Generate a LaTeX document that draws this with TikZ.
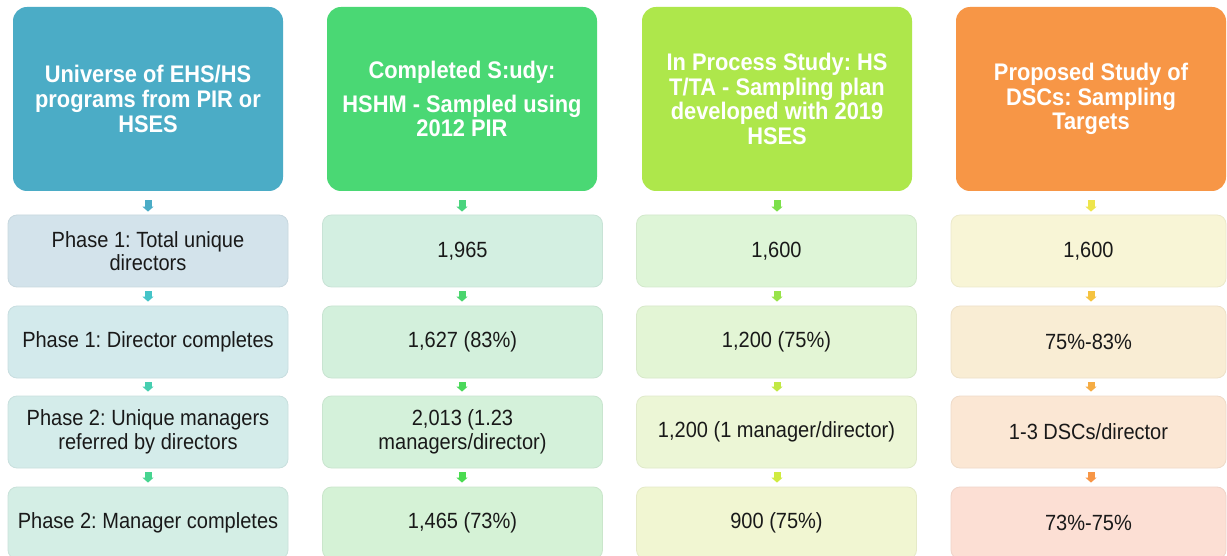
\documentclass[tikz,border=0pt]{standalone}
\usepackage{fontspec}
\setmainfont{Liberation Sans}[FakeStretch=0.91]
\usetikzlibrary{arrows.meta}
\definecolor{hA}{HTML}{4BACC6}
\definecolor{hB}{HTML}{4AD874}
\definecolor{hC}{HTML}{AEE74B}
\definecolor{hD}{HTML}{F79646}
% row fills
\definecolor{rA1}{HTML}{D3E3EB}\definecolor{rA2}{HTML}{D3EAEC}\definecolor{rA3}{HTML}{D4ECEA}\definecolor{rA4}{HTML}{D4EEE5}
\definecolor{rB1}{HTML}{D3EFE1}\definecolor{rB2}{HTML}{D3F0DC}\definecolor{rB3}{HTML}{D4F1DA}\definecolor{rB4}{HTML}{D5F2D6}
\definecolor{rC1}{HTML}{DEF5D7}\definecolor{rC2}{HTML}{E3F5D5}\definecolor{rC3}{HTML}{ECF6D6}\definecolor{rC4}{HTML}{F1F6D2}
\definecolor{rD1}{HTML}{F8F5D6}\definecolor{rD2}{HTML}{F9EDD4}\definecolor{rD3}{HTML}{FBE7D4}\definecolor{rD4}{HTML}{FCDFD4}
% arrow colours
\definecolor{aA1}{HTML}{4BACC6}\definecolor{aA2}{HTML}{45C4C8}\definecolor{aA3}{HTML}{47CEB0}\definecolor{aA4}{HTML}{47D490}
\definecolor{aB1}{HTML}{4AD47E}\definecolor{aB2}{HTML}{4AD56E}\definecolor{aB3}{HTML}{4AD85A}\definecolor{aB4}{HTML}{4ADB50}
\definecolor{aC1}{HTML}{7CE04A}\definecolor{aC2}{HTML}{98E349}\definecolor{aC3}{HTML}{C1E844}\definecolor{aC4}{HTML}{D0EB40}
\definecolor{aD1}{HTML}{EEE54C}\definecolor{aD2}{HTML}{F5C340}\definecolor{aD3}{HTML}{F5AC44}\definecolor{aD4}{HTML}{F79646}
\frenchspacing
\begin{document}
\begin{tikzpicture}[x=1pt,y=-1pt,
  hdr/.style={rounded corners=14pt, minimum width=270pt, minimum height=184pt,
    text=white, font=\fontsize{24}{24.7}\selectfont\bfseries\frenchspacing, align=center, inner sep=0pt},
  rowbox/.style={rounded corners=9pt, minimum width=280pt, minimum height=72pt,
    font=\fontsize{22}{23.5}\selectfont\frenchspacing, text=black!90, align=center, inner sep=0pt,
    line width=0.8pt},
  conn/.style={line width=7pt, -{Triangle[width=11pt,length=5pt]}},
  firstconn/.style={conn, shorten <=9pt, shorten >=3pt},
  nextconn/.style={conn, shorten <=4pt, shorten >=4pt}]
\clip (0,0) rectangle (1227,556);
\fill[white] (0,0) rectangle (1227,556);
% headers
\node[hdr, fill=hA] (hA) at (148,99) {Universe of EHS/HS\\programs from PIR or\\HSES};
\node[hdr, fill=hB] (hB) at (462,99) {Completed S:udy:\\[9pt]HSHM - Sampled using\\2012 PIR};
\node[hdr, fill=hC] (hC) at (777,99) {In Process Study: HS\\T/TA - Sampling plan\\developed with 2019\\HSES};
\node[hdr, fill=hD] (hD) at (1091,99) {Proposed Study of\\DSCs: Sampling\\Targets};
% column A
\node[rowbox, fill=rA1, draw=rA1!95!black] (A1) at (148,251) {Phase 1: Total unique\\directors};
\node[rowbox, fill=rA2, draw=rA2!95!black] (A2) at (148,342) {Phase 1: Director completes};
\node[rowbox, fill=rA3, draw=rA3!95!black] (A3) at (148,432) {Phase 2: Unique managers\\referred by directors};
\node[rowbox, fill=rA4, draw=rA4!95!black] (A4) at (148,523) {Phase 2: Manager completes};
% column B
\node[rowbox, fill=rB1, draw=rB1!95!black] (B1) at (462.5,251) {1,965};
\node[rowbox, fill=rB2, draw=rB2!95!black] (B2) at (462.5,342) {1,627 (83\%)};
\node[rowbox, fill=rB3, draw=rB3!95!black] (B3) at (462.5,432) {2,013 (1.23\\managers/director)};
\node[rowbox, fill=rB4, draw=rB4!95!black] (B4) at (462.5,523) {1,465 (73\%)};
% column C
\node[rowbox, fill=rC1, draw=rC1!95!black] (C1) at (776.5,251) {1,600};
\node[rowbox, fill=rC2, draw=rC2!95!black] (C2) at (776.5,342) {1,200 (75\%)};
\node[rowbox, fill=rC3, draw=rC3!95!black] (C3) at (776.5,432) {1,200 (1 manager/director)};
\node[rowbox, fill=rC4, draw=rC4!95!black] (C4) at (776.5,523) {900 (75\%)};
% column D
\node[rowbox, minimum width=275pt, fill=rD1, draw=rD1!95!black] (D1) at (1088.5,251) {1,600};
\node[rowbox, minimum width=275pt, fill=rD2, draw=rD2!95!black] (D2) at (1088.5,342) {75\%-83\%};
\node[rowbox, minimum width=275pt, fill=rD3, draw=rD3!95!black] (D3) at (1088.5,432) {1-3 DSCs/director};
\node[rowbox, minimum width=275pt, fill=rD4, draw=rD4!95!black] (D4) at (1088.5,523) {73\%-75\%};
% connectors
\foreach \c/\x in {A/148,B/462,C/777,D/1091}{
  \draw[firstconn, draw=a\c1] (h\c.south -| \x,0) -- (\c1.north -| \x,0);
  \draw[nextconn, draw=a\c2] (\c1.south -| \x,0) -- (\c2.north -| \x,0);
  \draw[nextconn, draw=a\c3] (\c2.south -| \x,0) -- (\c3.north -| \x,0);
  \draw[nextconn, draw=a\c4] (\c3.south -| \x,0) -- (\c4.north -| \x,0);
}
\end{tikzpicture}
\end{document}
